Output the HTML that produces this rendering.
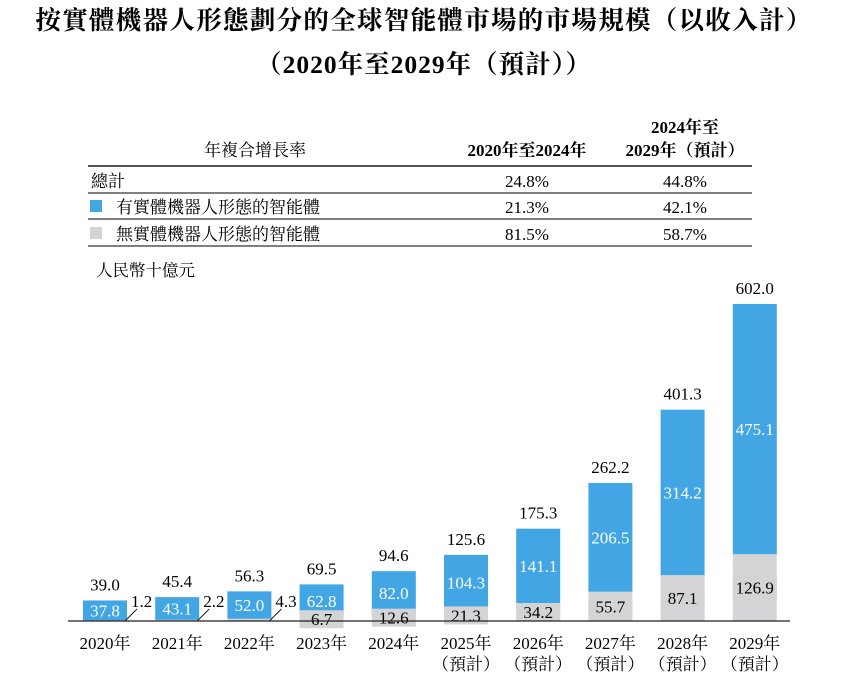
<!DOCTYPE html>
<html><head><meta charset="utf-8"><style>
body{margin:0;background:#fff;width:849px;height:677px;overflow:hidden;font-family:"Liberation Serif","Noto Serif CJK SC",serif;color:#231f20}
</style></head><body>
<svg width="849" height="677" style="font-family:'Liberation Serif','Noto Serif CJK SC',serif">
<text x="424" y="29" text-anchor="middle" font-size="25.5" font-weight="bold" letter-spacing="1.3">按實體機器人形態劃分的全球智能體市場的市場規模（以收入計）</text>
<text x="424" y="73" text-anchor="middle" font-size="25.5" font-weight="bold" letter-spacing="1">（2020年至2029年（預計））</text>
<g font-size="17">
<text x="255" y="156" text-anchor="middle">年複合增長率</text>
<text x="527" y="156" text-anchor="middle" font-weight="bold">2020年至2024年</text>
<text x="685" y="133" text-anchor="middle" font-weight="bold">2024年至</text>
<text x="685" y="156" text-anchor="middle" font-weight="bold">2029年（預計）</text>
<line x1="88" x2="752" y1="166" y2="166" stroke="#555" stroke-width="2"/>
<line x1="88" x2="752" y1="193" y2="193" stroke="#555" stroke-width="1.5"/>
<line x1="88" x2="752" y1="219" y2="219" stroke="#555" stroke-width="1.5"/>
<line x1="88" x2="752" y1="246" y2="246" stroke="#555" stroke-width="1.5"/>
<text x="91" y="187">總計</text>
<text x="527" y="187" text-anchor="middle">24.8%</text><text x="685" y="187" text-anchor="middle">44.8%</text>
<rect x="90" y="200" width="12" height="12" fill="#41a6e3"/>
<text x="116" y="213">有實體機器人形態的智能體</text>
<text x="527" y="213" text-anchor="middle">21.3%</text><text x="685" y="213" text-anchor="middle">42.1%</text>
<rect x="90" y="227" width="12" height="12" fill="#d4d4d6"/>
<text x="116" y="240">無實體機器人形態的智能體</text>
<text x="527" y="240" text-anchor="middle">81.5%</text><text x="685" y="240" text-anchor="middle">58.7%</text>
</g>
<text x="96" y="276" font-size="16.5">人民幣十億元</text>
<g id="bars"></g>
<line x1="68" x2="790" y1="621" y2="621" stroke="#231f20" stroke-width="1.2"/>
</svg>
<script>
const years=["2020年","2021年","2022年","2023年","2024年","2025年","2026年","2027年","2028年","2029年"];
const forecast=[false,false,false,false,false,true,true,true,true,true];
const embodied=[37.8,43.1,52.0,62.8,82.0,104.3,141.1,206.5,314.2,475.1];
const nonEmbodied=[1.2,2.2,4.3,6.7,12.6,21.3,34.2,55.7,87.1,126.9];
const totals=["39.0","45.4","56.3","69.5","94.6","125.6","175.3","262.2","401.3","602.0"];
const base=621,scale=317/602,x0=105,step=72.2,bw=44;
const y=v=>base-v*scale, xc=i=>x0+i*step;
const g=document.getElementById('bars');const NS="http://www.w3.org/2000/svg";
function el(t,a,txt){const e=document.createElementNS(NS,t);for(const k in a)e.setAttribute(k,a[k]);if(txt!=null)e.textContent=txt;g.appendChild(e);return e;}
years.forEach((yr,i)=>{
 const c=xc(i),gTop=y(nonEmbodied[i]),bTop=y(nonEmbodied[i]+embodied[i]);
 const r1=el('rect',{x:c-bw/2,y:gTop,width:bw,height:base-gTop,fill:'#d4d4d6'});
 
 
 const r2=el('rect',{x:c-bw/2,y:bTop,width:bw,height:gTop-bTop,fill:'#41a6e3'});
 
 
 el('text',{x:c,y:(bTop+gTop)/2+6,'text-anchor':'middle','font-size':17,fill:'#fff'},embodied[i].toFixed(1));
 if(nonEmbodied[i]<5){
  el('line',{x1:c+bw/2-2,y1:base,x2:c+bw/2+10,y2:base-12,stroke:'#231f20','stroke-width':1});
  el('text',{x:c+bw/2+4,y:base-14,'font-size':17},nonEmbodied[i].toFixed(1));
 }else{
  const cy=(gTop+base)/2;
  el('rect',{x:c-bw/2,y:cy-9,width:bw,height:18,fill:'#d4d4d6'});
  el('text',{x:c,y:cy+6,'text-anchor':'middle','font-size':17},nonEmbodied[i].toFixed(1));
 }
 const tl=el('text',{x:c,y:bTop-10,'text-anchor':'middle','font-size':17},totals[i]);
 
 
 const xl=el('text',{x:c,y:649,'text-anchor':'middle','font-size':17},yr);
 
 
 if(forecast[i])el('text',{x:c,y:670,'text-anchor':'middle','font-size':17},'（預計）');
});
</script>
</body></html>
